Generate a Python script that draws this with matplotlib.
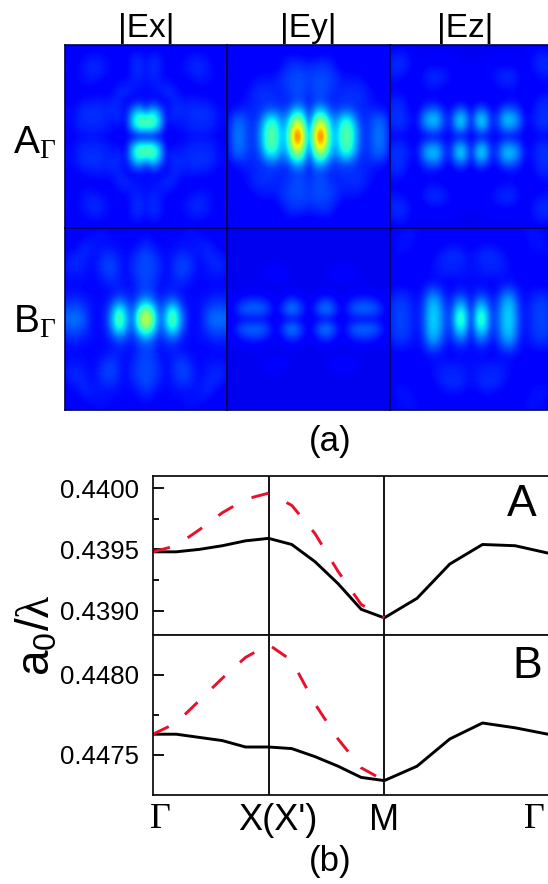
import numpy as np
import matplotlib
matplotlib.use('Agg')
from matplotlib import pyplot as plt

plt.rcParams['font.family'] = ['Liberation Sans', 'DejaVu Sans']
plt.rcParams['mathtext.fontset'] = 'custom'
plt.rcParams['mathtext.rm'] = 'Liberation Sans'
plt.rcParams['mathtext.it'] = 'Liberation Serif'
plt.rcParams['mathtext.cal'] = 'Liberation Serif'

W, H = 548, 884

# field maps: one quadrant each, rows and columns counted from the centre
ex_a = [[.11, .11, .11, .12, .12, .12, .13, .14, .14, .14, .13, .12, .12],
        [.42, .42, .30, .12, .13, .14, .15, .16, .16, .16, .15, .13, .13],
        [.44, .46, .34, .13, .17, .15, .16, .17, .17, .17, .16, .13, .14],
        [.18, .30, .22, .13, .16, .17, .16, .17, .17, .17, .15, .13, .14],
        [.13, .13, .12, .13, .16, .15, .14, .15, .14, .14, .13, .12, .12],
        [.13, .14, .15, .17, .16, .13, .12, .12, .12, .12, .11, .11, .11],
        [.14, .15, .15, .14, .13, .12, .12, .13, .14, .14, .13, .12, .13],
        [.14, .17, .15, .12, .12, .13, .14, .16, .16, .15, .13, .12, .14],
        [.14, .17, .16, .12, .12, .13, .14, .16, .16, .15, .13, .12, .14],
        [.13, .15, .14, .12, .12, .12, .13, .14, .14, .13, .12, .11, .13],
        [.11, .11, .11, .11, .11, .11, .11, .11, .11, .11, .11, .11, .11]]
ey_a = [[.20, .74, .86, .38, .30, .46, .45, .28, .17, .19, .25, .23, .13],
        [.19, .62, .72, .36, .28, .45, .44, .27, .17, .19, .24, .22, .13],
        [.17, .46, .50, .30, .24, .36, .35, .22, .16, .18, .22, .20, .13],
        [.16, .28, .30, .20, .18, .20, .20, .17, .16, .16, .15, .14, .12],
        [.15, .19, .19, .16, .16, .17, .17, .17, .16, .14, .13, .12, .12],
        [.17, .20, .20, .18, .16, .16, .17, .17, .16, .14, .12, .12, .11],
        [.18, .20, .20, .19, .17, .15, .15, .15, .14, .12, .11, .11, .11],
        [.18, .19, .19, .18, .16, .13, .13, .13, .12, .11, .11, .11, .11],
        [.15, .16, .17, .16, .13, .11, .11, .11, .11, .11, .12, .13, .11],
        [.12, .12, .13, .13, .12, .11, .11, .11, .11, .11, .13, .14, .11],
        [.11, .11, .11, .11, .11, .11, .11, .11, .11, .11, .11, .11, .11]]
ez_a = [[.12, .13, .13, .12, .12, .13, .13, .12, .11, .12, .13, .13, .12],
        [.13, .28, .30, .15, .17, .27, .27, .22, .13, .13, .16, .17, .15],
        [.14, .34, .34, .16, .19, .33, .33, .26, .13, .14, .17, .18, .16],
        [.12, .20, .20, .13, .14, .21, .21, .17, .12, .13, .16, .17, .16],
        [.11, .12, .12, .11, .12, .12, .13, .13, .11, .12, .15, .16, .15],
        [.11, .11, .11, .11, .12, .13, .13, .12, .11, .11, .12, .13, .12],
        [.11, .11, .12, .13, .15, .16, .16, .14, .12, .11, .12, .13, .13],
        [.11, .11, .12, .13, .15, .16, .16, .14, .11, .13, .15, .16, .15],
        [.11, .11, .11, .12, .12, .12, .12, .11, .11, .14, .16, .17, .15],
        [.10, .10, .11, .11, .11, .11, .11, .11, .11, .13, .15, .15, .14],
        [.10, .10, .10, .10, .10, .10, .10, .10, .10, .11, .12, .12, .11]]
ex_b = [[.66, .50, .20, .33, .50, .30, .16, .13, .14, .20, .24, .24, .23],
        [.52, .40, .19, .29, .42, .26, .15, .13, .14, .18, .21, .21, .20],
        [.30, .24, .16, .20, .24, .18, .14, .13, .14, .15, .17, .17, .16],
        [.20, .18, .14, .15, .16, .14, .13, .13, .13, .13, .14, .14, .14],
        [.19, .18, .14, .14, .15, .16, .15, .13, .13, .13, .13, .13, .13],
        [.20, .19, .16, .13, .16, .19, .18, .15, .13, .14, .15, .15, .14],
        [.20, .19, .17, .13, .16, .19, .19, .16, .13, .15, .16, .16, .15],
        [.20, .18, .15, .13, .15, .17, .17, .15, .14, .16, .16, .15, .13],
        [.17, .15, .13, .13, .13, .14, .14, .14, .15, .16, .14, .12, .12],
        [.14, .13, .12, .13, .13, .13, .14, .14, .14, .13, .12, .12, .12],
        [.12, .12, .12, .12, .12, .12, .13, .13, .12, .12, .12, .12, .12]]
ey_b = [[.11, .11, .12, .12, .11, .11, .12, .12, .12, .12, .12, .11, .11],
        [.11, .18, .26, .26, .17, .12, .19, .24, .24, .24, .21, .14, .11],
        [.11, .14, .18, .18, .13, .11, .15, .17, .18, .17, .15, .12, .11],
        [.10, .10, .11, .11, .10, .10, .10, .11, .11, .11, .10, .10, .10],
        [.10, .10, .10, .10, .10, .10, .10, .10, .10, .10, .10, .10, .10],
        [.10, .10, .10, .11, .13, .14, .13, .11, .10, .10, .10, .10, .10],
        [.10, .10, .10, .10, .10, .11, .10, .10, .10, .10, .10, .10, .10],
        [.10, .10, .10, .10, .10, .10, .10, .10, .10, .10, .10, .10, .10],
        [.10, .10, .10, .10, .10, .10, .10, .10, .10, .10, .10, .10, .10],
        [.10, .10, .10, .10, .10, .10, .10, .10, .10, .10, .10, .10, .10],
        [.10, .10, .10, .10, .10, .10, .10, .10, .10, .10, .10, .10, .10]]
ez_b = [[.14, .42, .42, .18, .22, .33, .34, .20, .14, .17, .19, .19, .16],
        [.14, .36, .36, .17, .21, .32, .33, .20, .14, .17, .19, .19, .16],
        [.13, .25, .25, .15, .19, .29, .30, .18, .13, .16, .18, .18, .15],
        [.13, .16, .16, .13, .15, .21, .22, .15, .13, .14, .15, .15, .13],
        [.13, .13, .13, .12, .13, .14, .14, .13, .12, .12, .12, .12, .12],
        [.14, .14, .15, .15, .15, .14, .13, .12, .11, .11, .11, .11, .11],
        [.14, .15, .16, .16, .16, .15, .13, .12, .11, .11, .11, .11, .12],
        [.14, .15, .17, .17, .16, .14, .12, .11, .11, .12, .13, .13, .13],
        [.12, .13, .14, .14, .13, .12, .11, .11, .12, .14, .14, .14, .12],
        [.12, .12, .12, .12, .12, .11, .11, .12, .13, .14, .14, .13, .12],
        [.12, .12, .12, .13, .13, .12, .12, .13, .13, .14, .13, .13, .12]]

# band diagram
k = [0, .2, .4, .6, .8, 1, 1.2, 1.4, 1.6, 1.8, 2,
     2.283, 2.566, 2.849, 3.131, 3.414]
a_solid = [.43948, .43948, .43950, .43953, .43957, .43959, .43954, .43940,
           .43922, .43901, .43894, .43910, .43938, .43954, .43953, .43947]
a_dash = [.43948, .43953, .43966, .43980, .43991, .43996, .43986, .43963,
          .43932, .43905, .43894]
b_solid = [.44763, .44763, .44761, .44759, .44755, .44755, .44754, .44749,
           .44743, .44736, .44734, .44743, .44760, .44770, .44767, .44763]
b_dash = [.44763, .44770, .44784, .44798, .44811, .44819, .44809, .44782,
          .44760, .44742, .44734]
k_lines = [1, 2]


def box(x0, y0, x1, y1):
    # pixel box of the reference -> figure fractions
    return [x0 / W, 1 - y1 / H, (x1 - x0) / W, (y1 - y0) / H]


def put(x, y, s, **kw):
    kw.setdefault('ha', 'center')
    kw.setdefault('va', 'center')
    fig.text(x / W, 1 - y / H, s, **kw)


def full_map(q):
    q = np.array(q)
    top = np.hstack([q[:, :0:-1], q])
    return np.vstack([top[:0:-1], top])


fig = plt.figure(figsize=(W / 100, H / 100), dpi=100)

maps = [[ex_a, ey_a, ez_a], [ex_b, ey_b, ez_b]]
cols = [(65, 227), (227, 390), (390, 552)]
rows = [(45, 228), (228, 410)]
for i in range(2):
    for j in range(3):
        ax = fig.add_axes(box(cols[j][0], rows[i][0], cols[j][1], rows[i][1]))
        ax.imshow(full_map(maps[i][j]), cmap='jet', vmin=0, vmax=1,
                  interpolation='bicubic', aspect='auto')
        ax.set_xlim(0, 24)
        ax.set_ylim(20, 0)
        ax.set_xticks([])
        ax.set_yticks([])
        for s in ax.spines.values():
            s.set_color('#000050')
            s.set_linewidth(1.2)

put(146, 28, '|Ex|', fontsize=24)
put(308, 28, '|Ey|', fontsize=24)
put(465, 28, '|Ez|', fontsize=24)
put(13, 143, r'$\mathrm{A}_{\mathcal{\Gamma}}$', fontsize=28, ha='left')
put(13, 322, r'$\mathrm{B}_{\mathcal{\Gamma}}$', fontsize=28, ha='left')
put(330, 441, '(a)', fontsize=25)

ax_a = fig.add_axes(box(153, 476, 552, 635))
ax_b = fig.add_axes(box(153, 635, 552, 795))
panels = [(ax_a, a_solid, a_dash, (.4388, .4401), [.4390, .4395, .4400], [.43925, .43975]),
          (ax_b, b_solid, b_dash, (.44725, .44825), [.4475, .4480], [.44775])]
for ax, solid, dash, ylim, major, minor in panels:
    for v in k_lines:
        ax.axvline(v, color='k', lw=1.3)
    ax.plot(k, solid, color='k', lw=2.1)
    ax.plot(k[:len(dash)], dash, color='#e8112d', lw=2.1, dashes=(6.0, 7.0))
    ax.set_xlim(0, 3.45)
    ax.set_ylim(*ylim)
    ax.set_xticks([])
    ax.set_yticks(major)
    ax.set_yticks(minor, minor=True)
    ax.set_yticklabels(['%.4f' % v for v in major], fontsize=18.5)
    ax.tick_params(axis='y', which='major', direction='in', length=8, width=1.3, pad=10)
    ax.tick_params(axis='y', which='minor', direction='in', length=4.5, width=1.3)
    for s in ax.spines.values():
        s.set_linewidth(1.3)
        s.set_color('#111111')

put(522, 505, 'A', fontsize=32)
put(527, 667, 'B', fontsize=32)
put(37, 635, r'$\mathrm{a_0/}\mathit{\lambda}$', fontsize=33, rotation=90)
put(160, 820, '\u0393', fontsize=26, family='Liberation Serif')
put(278, 820, "X(X')", fontsize=26)
put(384, 820, 'M', fontsize=26)
put(534, 820, '\u0393', fontsize=26, family='Liberation Serif')
put(330, 862, '(b)', fontsize=25)

fig.savefig('out.png', dpi=100)
